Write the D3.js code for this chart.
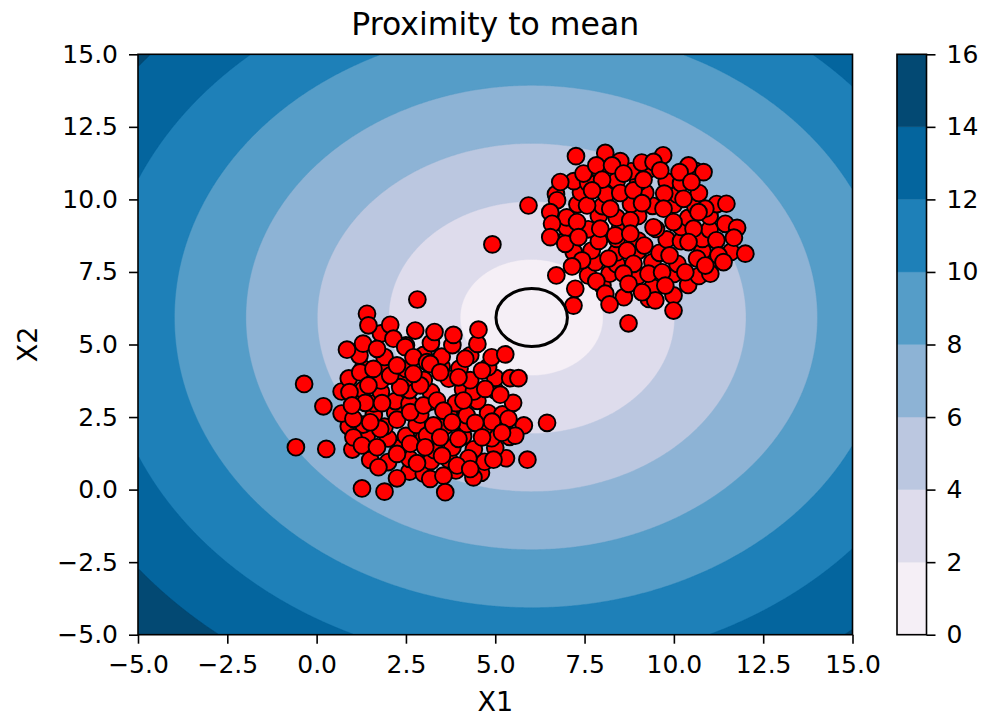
<!DOCTYPE html>
<html>
<head>
<meta charset="utf-8">
<script src="https://cdn.jsdelivr.net/npm/d3@7"></script>
<style>
  body { margin: 0; background: #fff; }
  svg text { font-family: "DejaVu Sans", sans-serif; fill: #000; }
</style>
</head>
<body>
<svg id="chart" width="981" height="717"></svg>
<script>
// ---- data ----
const xTicks = [-5, -2.5, 0, 2.5, 5, 7.5, 10, 12.5, 15];
const yTicks = [-5, -2.5, 0, 2.5, 5, 7.5, 10, 12.5, 15];
const levels = [0, 2, 4, 6, 8, 10, 12, 14, 16];
const meanPoint = [6.02, 5.93];
const meanRadius = 1;

// lower-left cluster
const cluster1 = [
  [2.6,0.62],[3.0,0.55],[3.9,0.66],[4.6,0.58],
  [1.5,1.02],[2.0,0.95],[2.6,1.06],[3.2,0.98],[3.7,1.04],[4.7,0.96],[5.3,1.08],
  [1.0,1.38],[2.3,1.43],[3.3,1.36],[3.8,1.45],[4.4,1.39],[5.0,1.44],
  [1.4,1.83],[2.0,1.76],[2.5,1.85],[3.0,1.78],[4.1,1.84],[4.9,1.77],[5.4,1.82],
  [0.9,2.18],[1.3,2.24],[1.9,2.17],[2.8,2.23],[3.6,2.19],[4.2,2.26],[4.7,2.16],[5.8,2.21],
  [0.7,2.62],[1.6,2.57],[2.2,2.65],[2.9,2.58],[3.7,2.63],[4.2,2.56],[4.8,2.64],[5.2,2.59],
  [1.1,3.04],[1.6,2.97],[2.2,3.05],[2.6,2.96],[3.2,3.03],[3.9,2.98],[4.5,3.06],[5.5,2.99],
  [0.7,3.38],[1.3,3.44],[1.8,3.37],[2.6,3.43],[3.2,3.36],[4.1,3.45],[4.4,3.38],[5.0,3.42],
  [0.9,3.83],[1.8,3.76],[2.5,3.84],[3.0,3.78],[3.7,3.82],[4.3,3.77],[5.0,3.85],
  [1.3,4.18],[2.0,4.24],[2.5,4.16],[3.5,4.23],[4.0,4.17],[4.8,4.22],
  [1.2,4.62],[1.9,4.57],[3.0,4.64],[3.5,4.58],[4.3,4.63],[4.9,4.56],
  [1.3,5.03],[2.5,4.97],[3.2,5.05],[3.8,4.98],[4.5,5.02],
  [1.8,5.38],[3.3,5.43],
  [2.82,6.55],[1.41,6.06],[1.45,5.66],[2.06,5.68],[2.76,5.48],[0.85,4.82],[1.69,4.85],[2.15,5.20],[2.48,4.91],
  [2.71,4.56],[-0.35,3.64],[0.19,2.87],[-0.58,1.46],[0.27,1.40],[1.27,0.04],[1.90,-0.07],[2.25,0.39],[1.73,0.77],
  [2.81,0.91],[0.92,3.36],[1.22,4.04],[1.59,4.16],[1.36,2.99],[1.83,2.98],[1.03,1.80],[1.27,1.52],[1.69,1.46],
  [1.78,2.09],[2.25,2.41],[2.62,2.67],[2.34,3.53],[2.90,3.59],[2.06,3.93],[2.62,1.58],[3.09,1.86],[2.99,2.90],
  [1.03,2.44],[1.45,3.59],[2.25,4.28],[2.71,3.99],[3.09,4.39],[2.25,1.23],[0.99,2.90],[1.50,2.32],
  [4.53,5.51],[3.83,5.33],[5.28,4.66],[4.16,4.51],[3.18,4.33],[4.63,4.10],[5.42,3.84],[5.65,3.84],[3.97,3.87],
  [3.46,4.04],[4.72,3.47],[5.14,3.27],[4.11,3.07],[3.37,3.07],[3.55,2.72],[5.37,2.44],[6.45,2.30],[4.91,2.34],
  [4.44,2.30],[3.79,2.32],[3.27,2.21],[5.56,1.86],[5.19,1.96],[4.63,1.80],[3.97,1.75],[3.46,1.80],[3.04,1.46],
  [3.51,1.17],[4.25,1.08],[4.95,1.03],[5.90,1.03],[3.18,0.37],[3.55,0.48],[4.39,0.42],[3.60,-0.09],[3.93,0.83],
  [4.30,0.71]
];

// upper-right cluster
const cluster2 = [
  [8.6,6.63],[9.3,6.57],
  [8.0,7.04],[9.4,6.97],[10.4,7.05],
  [7.6,7.38],[8.2,7.44],[9.0,7.37],[10.0,7.43],[10.7,7.36],
  [7.8,7.83],[8.4,7.77],[9.4,7.84],[10.1,7.78],[11.0,7.82],
  [7.2,8.18],[7.7,8.24],[8.4,8.17],[9.0,8.23],[9.6,8.16],[10.8,8.22],[11.6,8.19],
  [7.0,8.63],[7.9,8.57],[8.4,8.64],[9.0,8.58],[9.8,8.62],[10.2,8.56],[10.8,8.64],
  [7.0,9.03],[7.6,8.97],[8.5,9.04],[9.5,8.98],[10.2,9.05],[11.0,8.96],
  [7.0,9.38],[7.9,9.44],[8.4,9.37],[9.0,9.43],[10.4,9.36],[11.0,9.42],
  [7.3,9.83],[8.0,9.77],[8.8,9.84],[9.4,9.78],[10.0,9.82],[10.6,9.76],[11.2,9.84],
  [6.7,10.18],[7.4,10.24],[8.1,10.17],[9.2,10.23],[10.1,10.16],[10.7,10.22],
  [7.2,10.63],[7.6,10.57],[8.4,10.64],[9.0,10.58],[9.8,10.62],[10.2,10.56],
  [7.9,11.04],[8.8,10.97],[9.3,11.03],[10.6,10.98],
  [8.5,11.32],[9.1,11.27],
  [7.26,11.49],[8.08,11.60],[5.93,9.79],[6.82,10.60],[7.47,10.89],[7.83,11.17],[8.27,11.17],[7.99,10.68],[8.50,10.22],
  [6.73,9.97],[7.57,9.79],[8.22,9.68],[6.54,9.56],[6.59,9.16],[7.29,9.22],[6.54,8.70],[6.96,8.47],[7.33,8.70],
  [7.94,8.99],[8.36,8.76],[8.78,9.28],[8.78,8.82],[7.43,7.90],[7.15,7.69],[8.17,7.96],[8.69,8.24],[8.87,7.78],
  [6.71,7.38],[7.83,7.18],[7.24,6.92],[8.59,7.44],[8.08,6.75],[7.19,6.34],[8.20,6.38],[8.73,7.09],[8.73,5.73],
  [8.59,10.89],[8.87,10.31],[7.71,10.31],
  [9.70,11.52],[9.43,11.29],[10.41,11.17],[10.83,10.94],[10.16,10.94],[9.62,11.00],[9.15,10.68],[10.49,10.60],
  [9.73,10.20],[10.27,10.02],[11.47,9.85],[9.11,9.87],[10.88,9.68],[9.71,9.68],[10.69,9.56],[9.99,9.22],
  [10.55,8.99],[11.44,9.16],[11.77,9.02],[9.43,9.04],[11.19,8.59],[11.68,8.68],[12.00,8.13],[11.25,8.07],
  [11.39,7.84],[10.41,8.53],[9.17,8.41],[9.88,8.07],[10.65,7.96],[11.02,7.44],[10.32,7.49],[9.29,7.44],
  [9.67,7.49],[9.99,6.69],[9.48,6.52],[9.99,6.17],[9.11,6.80],[9.76,7.03],[10.88,7.72],[4.92,8.45]
];

// ---- styles ----
const bandColors = ["#f5eff6", "#dedcec", "#bbc7e0", "#8db3d5", "#559dc8", "#1e80b8", "#04659e", "#034973"];
const fmt = d3.format(".1f");

const svg = d3.select("#chart");
const plot = { left: 138, right: 852.5, top: 54.3, bottom: 634.7 };
const cbar = { left: 897, right: 926.5 };

const x = d3.scaleLinear([-5, 15], [plot.left, plot.right]);
const y = d3.scaleLinear([-5, 15], [plot.bottom, plot.top]);

// ---- distance field and filled contours ----
const n = 400;
const step = 20 / n;
const values = new Float64Array(n * n);
for (let j = 0; j < n; j++) {
  const gy = -5 + (j + 0.5) * step;
  for (let i = 0; i < n; i++) {
    const gx = -5 + (i + 0.5) * step;
    values[j * n + i] = Math.hypot(gx - meanPoint[0], gy - meanPoint[1]);
  }
}
const bands = d3.contours().size([n, n]).thresholds(levels.slice(0, -1))(values);
const gridToPx = d3.geoTransform({
  point(cx, cy) { this.stream.point(x(-5 + cx * step), y(-5 + cy * step)); }
});
const geo = d3.geoPath(gridToPx);

svg.append("clipPath").attr("id", "plot-clip")
  .append("rect")
  .attr("x", plot.left).attr("y", plot.top)
  .attr("width", plot.right - plot.left).attr("height", plot.bottom - plot.top);

const inner = svg.append("g").attr("clip-path", "url(#plot-clip)");
inner.selectAll("path.band")
  .data(bands)
  .join("path")
  .attr("class", "band")
  .attr("d", geo)
  .attr("fill", (d, i) => bandColors[i])
  .attr("stroke", (d, i) => bandColors[i])
  .attr("stroke-width", 0.4);

// ---- points ----
const allPoints = cluster1.concat(cluster2);
inner.selectAll("circle.pt")
  .data(allPoints)
  .join("circle")
  .attr("class", "pt")
  .attr("cx", d => x(d[0]))
  .attr("cy", d => y(d[1]))
  .attr("r", 8.4)
  .attr("fill", "#ff0000")
  .attr("stroke", "#000")
  .attr("stroke-width", 1.9);

// ---- circle around the mean ----
inner.append("ellipse")
  .attr("cx", x(meanPoint[0]))
  .attr("cy", y(meanPoint[1]))
  .attr("rx", x(meanRadius) - x(0))
  .attr("ry", y(0) - y(meanRadius))
  .attr("fill", "none")
  .attr("stroke", "#000")
  .attr("stroke-width", 3);

// ---- axes ----
const tickFont = 25;
const xAxis = svg.append("g")
  .attr("transform", `translate(0,${plot.bottom})`)
  .call(d3.axisBottom(x).tickValues(xTicks).tickFormat(fmt).tickSize(9).tickPadding(12).tickSizeOuter(0));
const yAxis = svg.append("g")
  .attr("transform", `translate(${plot.left},0)`)
  .call(d3.axisLeft(y).tickValues(yTicks).tickFormat(fmt).tickSize(9).tickPadding(11).tickSizeOuter(0));
[xAxis, yAxis].forEach(g => {
  g.select(".domain").remove();
  g.selectAll(".tick line").attr("stroke", "#000").attr("stroke-width", 1.6);
  g.selectAll(".tick text").attr("font-size", tickFont).attr("font-family", "DejaVu Sans").attr("fill", "#000");
});

svg.append("rect")
  .attr("x", plot.left).attr("y", plot.top)
  .attr("width", plot.right - plot.left).attr("height", plot.bottom - plot.top)
  .attr("fill", "none").attr("stroke", "#000").attr("stroke-width", 1.6);

// ---- titles ----
svg.append("text")
  .attr("x", (plot.left + plot.right) / 2).attr("y", 35)
  .attr("text-anchor", "middle").attr("font-size", 31.5)
  .text("Proximity to mean");
svg.append("text")
  .attr("x", (plot.left + plot.right) / 2).attr("y", 711)
  .attr("text-anchor", "middle").attr("font-size", 27)
  .text("X1");
svg.append("text")
  .attr("transform", `translate(37,${(plot.top + plot.bottom) / 2}) rotate(-90)`)
  .attr("text-anchor", "middle").attr("font-size", 27)
  .text("X2");

// ---- colorbar ----
const cb = d3.scaleLinear([levels[0], levels[levels.length - 1]], [plot.bottom, plot.top]);
const cbPairs = d3.pairs(levels);
svg.append("g").selectAll("rect")
  .data(cbPairs)
  .join("rect")
  .attr("x", cbar.left)
  .attr("width", cbar.right - cbar.left)
  .attr("y", d => cb(d[1]))
  .attr("height", d => cb(d[0]) - cb(d[1]))
  .attr("fill", (d, i) => bandColors[i])
  .attr("stroke", (d, i) => bandColors[i])
  .attr("stroke-width", 0.4);
svg.append("rect")
  .attr("x", cbar.left).attr("y", plot.top)
  .attr("width", cbar.right - cbar.left).attr("height", plot.bottom - plot.top)
  .attr("fill", "none").attr("stroke", "#000").attr("stroke-width", 1.6);
const cbAxis = svg.append("g")
  .attr("transform", `translate(${cbar.right},0)`)
  .call(d3.axisRight(cb).tickValues(levels).tickFormat(d3.format("d")).tickSize(9).tickPadding(11).tickSizeOuter(0));
cbAxis.select(".domain").remove();
cbAxis.selectAll(".tick line").attr("stroke", "#000").attr("stroke-width", 1.6);
cbAxis.selectAll(".tick text").attr("font-size", tickFont).attr("font-family", "DejaVu Sans").attr("fill", "#000");
</script>
</body>
</html>
